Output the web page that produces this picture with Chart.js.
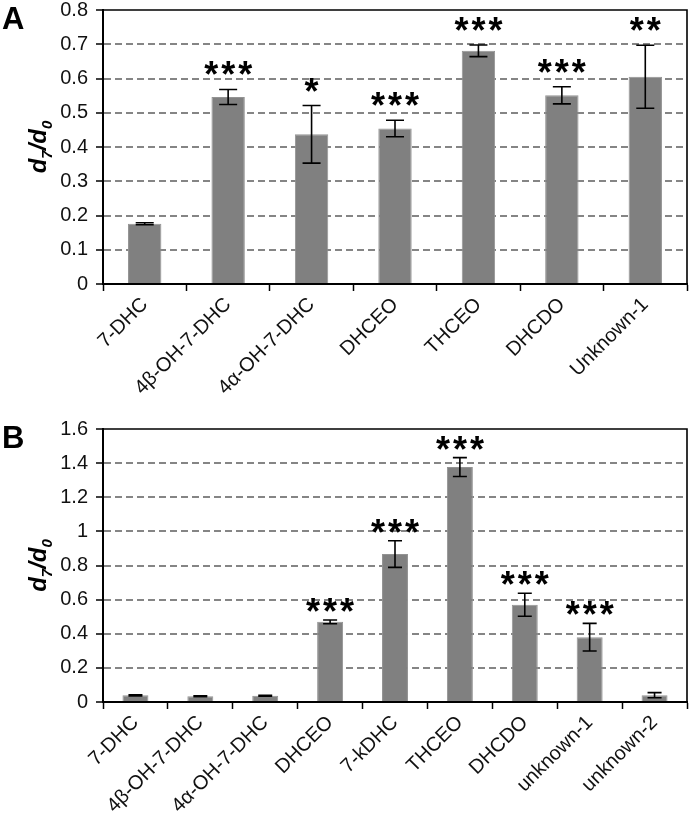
<!DOCTYPE html>
<html>
<head>
<meta charset="utf-8">
<script src="https://cdn.jsdelivr.net/npm/chart.js@4.4.1/dist/chart.umd.min.js"></script>
<style>
  body { margin: 0; background: #fff; }
  #wrapA { position: absolute; left: 0; top: 0; }
  #wrapB { position: absolute; left: 0; top: 400px; }
</style>
</head>
<body>
<div id="wrapA"><canvas id="chartA" width="691" height="400"></canvas></div>
<div id="wrapB"><canvas id="chartB" width="691" height="418"></canvas></div>
<script>
// panel A
const labelsA = ['7-DHC', '4β-OH-7-DHC', '4α-OH-7-DHC', 'DHCEO', 'THCEO', 'DHCDO', 'Unknown-1'];
const valuesA = [0.176, 0.546, 0.437, 0.454, 0.681, 0.551, 0.605];
const errorsA = [0.003, 0.022, 0.084, 0.024, 0.017, 0.025, 0.092];
const starsA = ['', '***', '*', '***', '***', '***', '**'];
const ticksA = { max: 0.8, step: 0.1 };

// panel B
const labelsB = ['7-DHC', '4β-OH-7-DHC', '4α-OH-7-DHC', 'DHCEO', '7-kDHC', 'THCEO', 'DHCDO', 'unknown-1', 'unknown-2'];
const valuesB = [0.039, 0.034, 0.037, 0.470, 0.867, 1.377, 0.570, 0.380, 0.040];
const errorsB = [0.003, 0.003, 0.003, 0.011, 0.078, 0.055, 0.067, 0.081, 0.015];
const starsB = ['', '', '', '***', '***', '***', '***', '***', ''];
const ticksB = { max: 1.6, step: 0.2 };

const FONT = '"Liberation Sans", Arial, sans-serif';

// error bars, significance stars, frame, panel letter and y title
const extras = {
    id: 'extras',
    afterDatasetsDraw(chart, args, opts) {
        const ctx = chart.ctx;
        const a = chart.chartArea;
        const y = chart.scales.y;
        const data = chart.data.datasets[0].data;
        const meta = chart.getDatasetMeta(0);
        ctx.save();
        // top and right frame
        ctx.strokeStyle = '#000';
        ctx.lineWidth = 1.6;
        ctx.beginPath();
        ctx.moveTo(a.left, a.top);
        ctx.lineTo(a.right, a.top);
        ctx.lineTo(a.right, a.bottom);
        ctx.stroke();

        meta.data.forEach((bar, i) => {
            const hi = y.getPixelForValue(data[i] + opts.errors[i]);
            const lo = y.getPixelForValue(data[i] - opts.errors[i]);
            const cap = bar.width * 0.27;
            ctx.strokeStyle = '#000';
            ctx.lineWidth = 1.6;
            ctx.beginPath();
            ctx.moveTo(bar.x, hi); ctx.lineTo(bar.x, lo);
            ctx.moveTo(bar.x - cap, hi); ctx.lineTo(bar.x + cap, hi);
            ctx.moveTo(bar.x - cap, lo); ctx.lineTo(bar.x + cap, lo);
            ctx.stroke();

            const s = opts.stars[i];
            if (s) {
                ctx.fillStyle = '#000';
                ctx.font = 'bold 36px ' + FONT;
                ctx.textAlign = 'center';
                ctx.textBaseline = 'alphabetic';
                const m = ctx.measureText('*');
                const mid = (m.actualBoundingBoxAscent - m.actualBoundingBoxDescent) / 2;
                const cy = hi - opts.starGap;
                for (let k = 0; k < s.length; k++) {
                    ctx.fillText('*', bar.x + (k - (s.length - 1) / 2) * 17, cy + mid);
                }
            }
        });

        // panel letter
        ctx.fillStyle = '#000';
        ctx.font = 'bold 31px ' + FONT;
        ctx.textAlign = 'left';
        ctx.textBaseline = 'alphabetic';
        ctx.fillText(opts.letter, 2, opts.letterY);

        // y title d7/d0, rotated
        const parts = [['d', 24, 0], ['7', 15, 6], ['/', 24, 0], ['d', 24, 0], ['0', 15, 6]];
        let total = 0;
        parts.forEach(p => {
            ctx.font = 'italic bold ' + p[1] + 'px ' + FONT;
            total += ctx.measureText(p[0]).width;
        });
        ctx.translate(46, (a.top + a.bottom) / 2);
        ctx.rotate(-Math.PI / 2);
        let x = -total / 2;
        parts.forEach(p => {
            ctx.font = 'italic bold ' + p[1] + 'px ' + FONT;
            ctx.fillText(p[0], x, p[2]);
            x += ctx.measureText(p[0]).width;
        });
        ctx.restore();
    }
};

function makeChart(id, labels, values, errors, stars, ticks, letter, letterY, top, starGap) {
    var ctx = document.getElementById(id).getContext('2d');
    return new Chart(ctx, {
        type: 'bar',
        data: {
            labels: labels,
            datasets: [{
                data: values,
                backgroundColor: '#808080',
                borderColor: '#939393',
                borderWidth: 1,
                barPercentage: 0.4,
                categoryPercentage: 1
            }]
        },
        plugins: [extras],
        options: {
            responsive: false,
            animation: false,
            devicePixelRatio: 1,
            layout: { padding: { top: top, right: 4, left: 0, bottom: 0 } },
            plugins: {
                legend: { display: false },
                tooltip: { enabled: false },
                extras: { errors: errors, stars: stars, letter: letter, letterY: letterY, starGap: starGap }
            },
            scales: {
                x: {
                    grid: { offset: true, drawOnChartArea: false, tickLength: 7, tickColor: '#000', tickWidth: 1.5 },
                    border: { color: '#000', width: 2 },
                    ticks: {
                        color: '#111', font: { family: FONT, size: 20 },
                        minRotation: 45, maxRotation: 45, autoSkip: false, padding: 2
                    },
                    afterFit: s => { s.height = 116; s.paddingLeft = 0; s.paddingRight = 0; }
                },
                y: {
                    min: 0,
                    max: ticks.max,
                    grid: {
                        color: c => (c.tick.value === 0 || c.tick.value >= ticks.max - 1e-9) ? 'rgba(0,0,0,0)' : '#858585',
                        lineWidth: 2,
                        tickLength: 7, tickColor: '#000', tickWidth: 1.5
                    },
                    border: { color: '#000', width: 2, dash: [7, 4] },
                    ticks: {
                        stepSize: ticks.step, color: '#111', padding: 8,
                        font: { family: FONT, size: 20 },
                        callback: v => +v.toFixed(1)
                    },
                    afterFit: s => { s.width = 103; s.paddingTop = 0; s.paddingBottom = 0; }
                }
            }
        }
    });
}

makeChart('chartA', labelsA, valuesA, errorsA, starsA, ticksA, 'A', 29, 10, 21);
makeChart('chartB', labelsB, valuesB, errorsB, starsB, ticksB, 'B', 48, 29, 15);
</script>
</body>
</html>
